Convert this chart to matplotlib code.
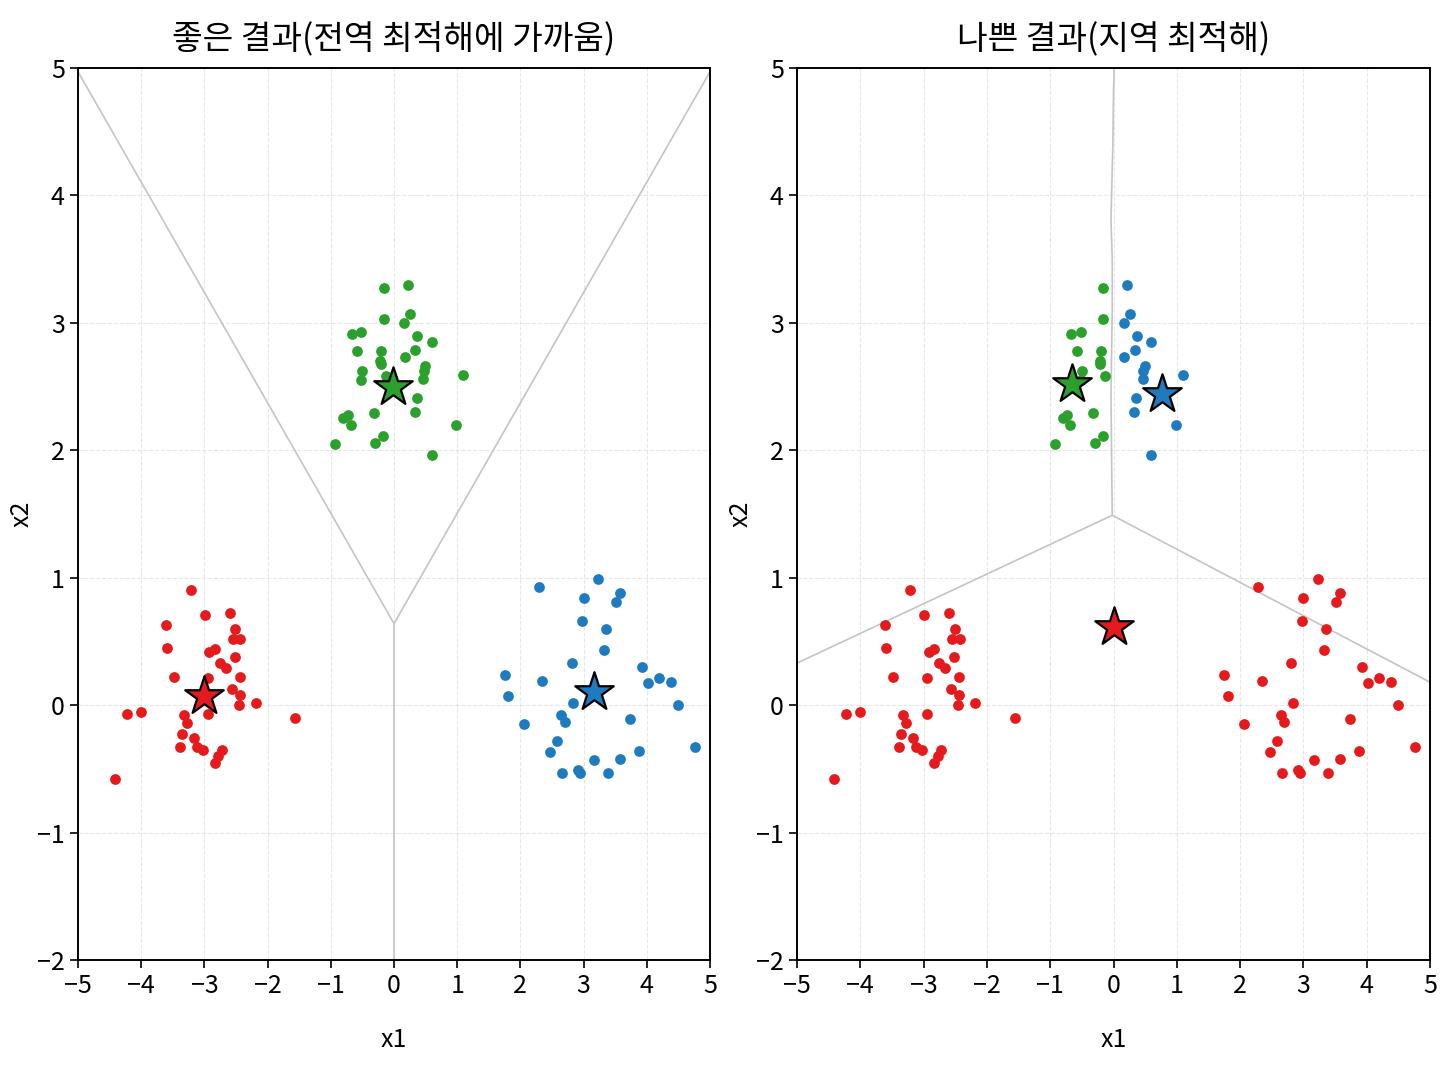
import numpy as np
import matplotlib
matplotlib.use('Agg')
import matplotlib.pyplot as plt

plt.rcParams['font.family'] = ['Noto Sans CJK KR', 'DejaVu Sans']
plt.rcParams['axes.unicode_minus'] = True

# --- data ---
green_x = [-0.16, 0.22, -0.16, 0.26, 0.16, -0.67, -0.52, 0.37, 0.60, -0.58, -0.20,
           0.34, 0.17, -0.22, -0.21, 0.49, 0.47, 0.46, -0.50, -0.52, -0.13, 1.09,
           0.36, 0.33, -0.32, -0.73, -0.80, -0.68, 0.98, -0.17, -0.30, -0.93, 0.60]
green_y = [3.27, 3.30, 3.03, 3.07, 3.00, 2.91, 2.93, 2.90, 2.85, 2.78, 2.78,
           2.79, 2.73, 2.70, 2.68, 2.66, 2.62, 2.56, 2.62, 2.55, 2.58, 2.59,
           2.41, 2.30, 2.29, 2.28, 2.25, 2.20, 2.20, 2.11, 2.06, 2.05, 1.96]
# cluster of each green-blob point in the bad run: 2 = green, 1 = blue
green_bad_lab = [2, 1, 2, 1, 1, 2, 2, 1, 1, 2, 2,
                 1, 1, 2, 2, 1, 1, 1, 2, 2, 2, 1,
                 1, 1, 2, 2, 2, 2, 1, 2, 2, 2, 1]

red_x = [-3.22, -2.99, -2.60, -3.61, -2.51, -2.55, -2.43, -3.59, -2.92, -2.83, -2.52,
         -2.75, -2.66, -3.48, -2.95, -2.44, -2.56, -2.44, -2.45, -2.19, -1.56, -4.22,
         -4.00, -2.95, -3.32, -3.27, -3.35, -3.17, -3.39, -3.12, -3.03, -2.72, -2.78,
         -2.83, -4.41]
red_y = [0.90, 0.71, 0.72, 0.63, 0.60, 0.52, 0.52, 0.45, 0.42, 0.44, 0.38,
         0.33, 0.29, 0.22, 0.21, 0.22, 0.13, 0.08, 0.00, 0.02, -0.10, -0.07,
         -0.05, -0.07, -0.08, -0.14, -0.23, -0.26, -0.33, -0.33, -0.35, -0.35, -0.40,
         -0.45, -0.58]

blue_x = [3.23, 2.29, 3.00, 3.58, 3.51, 2.98, 3.36, 3.33, 2.81, 3.92, 1.75,
          2.35, 4.20, 4.02, 4.39, 1.81, 2.84, 4.49, 2.64, 2.70, 3.73, 2.06,
          2.58, 4.77, 2.47, 3.87, 3.57, 3.16, 2.66, 2.91, 2.94, 3.39]
blue_y = [0.99, 0.93, 0.84, 0.88, 0.81, 0.66, 0.60, 0.43, 0.33, 0.30, 0.24,
          0.19, 0.21, 0.17, 0.18, 0.07, 0.02, 0.00, -0.08, -0.13, -0.11, -0.15,
          -0.28, -0.33, -0.37, -0.36, -0.42, -0.43, -0.53, -0.51, -0.53, -0.53]

# centroids (red, blue, green)
good_cx = [-3.01, 3.16, -0.02]
good_cy = [0.07, 0.10, 2.50]
bad_cx = [0.00, 0.76, -0.66]
bad_cy = [0.61, 2.44, 2.52]

# decision boundaries
good_bx = [[-5.0, 0.0, 5.0], [0.0, 0.0]]
good_by = [[4.97, 0.64, 4.97], [0.64, -2.0]]
bad_bx = [[0.01, 0.0, -0.01, -0.04, -0.02, -0.02, -0.04, -0.03, -0.02],
          [-5.0, -0.02, 5.0]]
bad_by = [[5.0, 4.80, 4.41, 3.81, 3.49, 3.10, 2.45, 1.92, 1.49],
          [0.33, 1.49, 0.18]]

titles = ['좋은 결과(전역 최적해에 가까움)', '나쁜 결과(지역 최적해)']
colors = ['#e41a1c', '#1f7bbf', '#2ca02c']

X = np.array(green_x + red_x + blue_x)
Y = np.array(green_y + red_y + blue_y)
good_lab = np.array([2] * len(green_x) + [0] * len(red_x) + [1] * len(blue_x))
bad_lab = np.array(green_bad_lab + [0] * len(red_x) + [0] * len(blue_x))


def draw(ax, lab, cx, cy, bx, by, title):
    for xs, ys in zip(bx, by):
        ax.plot(xs, ys, color='#c4c4c4', lw=1.2, zorder=1)
    for k in range(3):
        m = lab == k
        ax.scatter(X[m], Y[m], s=60, color=colors[k], zorder=3, linewidths=0)
        ax.scatter(cx[k], cy[k], s=850, marker='*', color=colors[k],
                   edgecolors='black', linewidths=1.6, zorder=4)
    ax.set_xlim(-5, 5)
    ax.set_ylim(-2, 5)
    ax.set_xticks(range(-5, 6))
    ax.set_yticks(range(-2, 6))
    ax.grid(True, ls='--', color='#dddddd', lw=0.8, alpha=0.7)
    ax.set_axisbelow(True)
    ax.tick_params(labelsize=18, length=6, width=1.2)
    for s in ax.spines.values():
        s.set_linewidth(1.4)
    ax.set_xlabel('x1', fontsize=18, labelpad=20)
    ax.set_ylabel('x2', fontsize=18, labelpad=2)
    ax.set_title(title, fontsize=24, pad=14)


fig = plt.figure(figsize=(14.48, 10.86), dpi=100)
ax1 = fig.add_axes([0.0539, 0.116, 0.4364, 0.8214])
ax2 = fig.add_axes([0.5504, 0.116, 0.4372, 0.8214])
draw(ax1, good_lab, good_cx, good_cy, good_bx, good_by, titles[0])
draw(ax2, bad_lab, bad_cx, bad_cy, bad_bx, bad_by, titles[1])

fig.savefig('out.png', dpi=100)
